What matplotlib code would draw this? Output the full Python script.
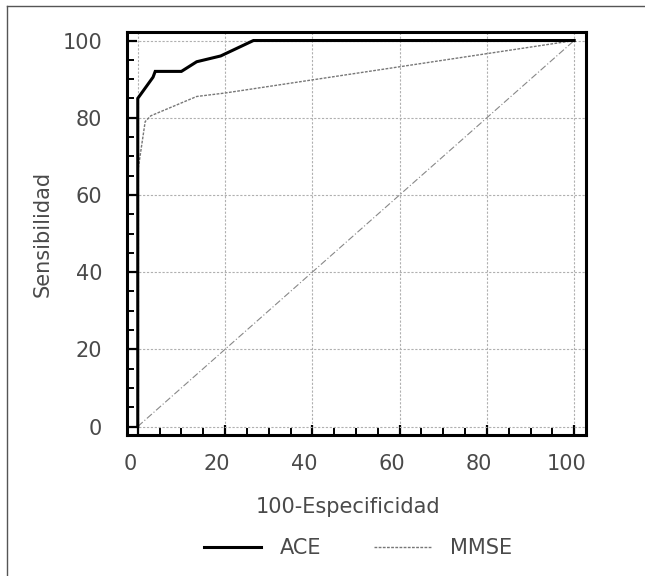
import matplotlib

matplotlib.use("Agg")

import matplotlib.pyplot as plt
import matplotlib.transforms as mtransforms
from matplotlib.lines import Line2D
from matplotlib.ticker import MultipleLocator

plt.rcParams["font.family"] = ["DejaVu Sans"]

# ROC curves (100-specificity vs sensitivity)
ace_x = [0, 0, 3.5, 4, 10, 13.5, 19, 26.5, 100]
ace_y = [0, 85, 90.5, 92, 92, 94.5, 96, 100, 100]
mmse_x = [0, 0, 1.7, 3, 13.5, 20, 100]
mmse_y = [0, 66, 79, 80.5, 85.5, 86.4, 100]
ref_x = [0, 100]
ref_y = [0, 100]
ticks = [0, 20, 40, 60, 80, 100]

text_color = "#4a4a4a"
fs = 15

fig = plt.figure(figsize=(6.45, 5.76), dpi=100)
ax = fig.add_axes([0.197, 0.2448, 0.7115, 0.6996])

# outer frame of the figure (only left and top edges show)
fig.lines.append(Line2D([7 / 645, 7 / 645], [0, 1 - 6 / 576],
                        transform=fig.transFigure, color="#555555", linewidth=1.0))
fig.lines.append(Line2D([7 / 645, 1], [1 - 6 / 576, 1 - 6 / 576],
                        transform=fig.transFigure, color="#555555", linewidth=1.0))

ax.plot(ref_x, ref_y, color="#888888", linewidth=0.8, dashes=(6, 2, 1, 2))
ax.plot(mmse_x, mmse_y, color="#777777", linewidth=1.0, dashes=(2, 1),
        label="MMSE")
ax.plot(ace_x, ace_y, color="black", linewidth=2.2, label="ACE",
        solid_joinstyle="miter")

ax.set_xlim(-2.45, 102.7)
ax.set_ylim(-2.2, 102.2)
ax.set_xticks(ticks)
ax.set_yticks(ticks)
ax.xaxis.set_minor_locator(MultipleLocator(5))
ax.yaxis.set_minor_locator(MultipleLocator(5))
ax.grid(True, which="major", color="#b0b0b0", linestyle=(0, (2, 1.5)),
        linewidth=0.8)

ax.tick_params(which="major", direction="in", length=7, width=1.6,
               labelsize=fs, labelcolor=text_color, pad=18)
ax.tick_params(which="minor", direction="in", length=5, width=1.4)
ax.tick_params(axis="x", which="major", pad=14)
for spine in ax.spines.values():
    spine.set_linewidth(2.2)

# tick labels of the x axis sit a bit left of their ticks in the original
shift = mtransforms.ScaledTranslation(-8 / 100, 0, fig.dpi_scale_trans)
for label in ax.get_xticklabels():
    label.set_transform(label.get_transform() + shift)

ax.set_xlabel("100-Especificidad", fontsize=fs, color=text_color)
ax.xaxis.set_label_coords(0.481, -0.155)
ax.set_ylabel("Sensibilidad", fontsize=fs, color=text_color)
ax.yaxis.set_label_coords(-0.162, 0.5)

handles, labels = ax.get_legend_handles_labels()
fig.legend(handles[::-1], labels[::-1], loc="center",
           bbox_to_anchor=(358 / 645, 1 - 548 / 576), ncol=2, frameon=False,
           fontsize=fs, labelcolor=text_color, handlelength=2.75,
           columnspacing=2.5, handletextpad=0.9)

fig.savefig("out.png", dpi=100)
